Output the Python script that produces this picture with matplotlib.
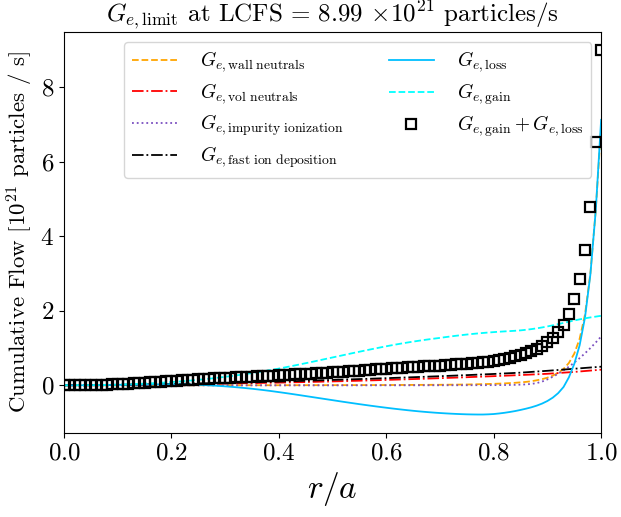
import numpy as np
import matplotlib
matplotlib.use("Agg")
import matplotlib.pyplot as plt

plt.rcParams['font.family'] = 'serif'
plt.rcParams['font.serif'] = ['cmr10', 'DejaVu Serif']
plt.rcParams['mathtext.fontset'] = 'cm'
plt.rcParams['axes.formatter.use_mathtext'] = True
plt.rcParams['axes.unicode_minus'] = False

# radial grid for gain / loss (101 points, 0.01 spacing)
r = np.linspace(0.0, 1.0, 101)

gain = [
    0.000, 0.001, 0.002, 0.003, 0.004, 0.006, 0.008, 0.010, 0.013, 0.016,
    0.020, 0.024, 0.029, 0.034, 0.040, 0.046, 0.053, 0.061, 0.069, 0.078,
    0.088, 0.098, 0.109, 0.121, 0.134, 0.148, 0.162, 0.177, 0.193, 0.210,
    0.228, 0.247, 0.266, 0.286, 0.307, 0.329, 0.352, 0.375, 0.399, 0.424,
    0.449, 0.477, 0.506, 0.535, 0.564, 0.594, 0.624, 0.655, 0.686, 0.717,
    0.748, 0.779, 0.810, 0.841, 0.872, 0.902, 0.932, 0.962, 0.991, 1.020,
    1.048, 1.075, 1.101, 1.126, 1.150, 1.173, 1.195, 1.216, 1.236, 1.255,
    1.273, 1.293, 1.312, 1.330, 1.347, 1.363, 1.378, 1.392, 1.405, 1.417,
    1.428, 1.438, 1.447, 1.455, 1.464, 1.475, 1.490, 1.508, 1.529, 1.553,
    1.580, 1.610, 1.642, 1.675, 1.708, 1.740, 1.770, 1.797, 1.822, 1.844,
    1.866,
]

loss = [
    0.000, 0.000, 0.001, 0.002, 0.003, 0.004, 0.005, 0.007, 0.009, 0.011,
    0.013, 0.015, 0.017, 0.019, 0.021, 0.023, 0.025, 0.026, 0.027, 0.028,
    0.028, 0.027, 0.025, 0.022, 0.018, 0.013, 0.007, 0.000, -0.008, -0.017,
    -0.027, -0.038, -0.050, -0.063, -0.077, -0.092, -0.108, -0.125, -0.143, -0.162,
    -0.182, -0.202, -0.223, -0.244, -0.266, -0.288, -0.310, -0.332, -0.354, -0.376,
    -0.398, -0.420, -0.442, -0.463, -0.484, -0.505, -0.525, -0.545, -0.564, -0.583,
    -0.601, -0.619, -0.636, -0.652, -0.668, -0.683, -0.697, -0.710, -0.722, -0.733,
    -0.743, -0.752, -0.760, -0.767, -0.773, -0.778, -0.781, -0.783, -0.783, -0.778,
    -0.770, -0.755, -0.737, -0.715, -0.690, -0.660, -0.627, -0.590, -0.545, -0.490,
    -0.420, -0.330, -0.210, -0.045, 0.215, 0.575, 1.075, 1.825, 2.975, 4.695,
    7.124,
]

# coarser grids for the slowly varying components
r_slow = [0.0, 0.05, 0.1, 0.15, 0.2, 0.25, 0.3, 0.35, 0.4, 0.45, 0.5,
          0.55, 0.6, 0.65, 0.7, 0.75, 0.8, 0.85, 0.9, 0.95, 1.0]
vol_neutrals = [0.000, 0.004, 0.010, 0.018, 0.027, 0.037, 0.048, 0.060, 0.073, 0.088, 0.105,
                0.124, 0.145, 0.168, 0.192, 0.218, 0.246, 0.276, 0.310, 0.360, 0.420]
fast_ion = [0.000, 0.006, 0.014, 0.024, 0.036, 0.050, 0.065, 0.082, 0.100, 0.122, 0.145,
            0.168, 0.192, 0.218, 0.245, 0.274, 0.305, 0.340, 0.390, 0.445, 0.500]

r_edge = [0.0, 0.1, 0.2, 0.3, 0.4, 0.5, 0.6, 0.7, 0.75, 0.8, 0.82, 0.84, 0.86, 0.87,
          0.88, 0.89, 0.90, 0.91, 0.92, 0.93, 0.94, 0.95, 0.96, 0.97, 0.98, 0.99, 1.0]
wall_neutrals = [0.000, 0.000, 0.001, 0.002, 0.003, 0.005, 0.008, 0.015, 0.022, 0.040,
                 0.052, 0.068, 0.092, 0.110, 0.135, 0.165, 0.205, 0.260, 0.335, 0.440,
                 0.600, 0.850, 1.250, 1.900, 3.000, 4.700, 6.950]
impurity = [0.000, 0.000, 0.000, 0.000, 0.000, 0.000, 0.001, 0.002, 0.003, 0.005,
            0.008, 0.013, 0.025, 0.038, 0.060, 0.100, 0.160, 0.230, 0.310, 0.400,
            0.500, 0.610, 0.730, 0.860, 1.000, 1.150, 1.310]

total = np.array(gain) + np.array(loss)

fig = plt.figure(figsize=(6.21, 5.17), dpi=100)
ax = fig.add_axes([0.103, 0.163, 0.865, 0.775])

ax.plot(r_edge, wall_neutrals, '--', color='orange', lw=1.3,
        label=r'$G_{e,\mathrm{wall\ neutrals}}$')
ax.plot(r_slow, vol_neutrals, '-.', color='red', lw=1.3,
        label=r'$G_{e,\mathrm{vol\ neutrals}}$')
ax.plot(r_edge, impurity, ':', color='#7a4fc0', lw=1.3,
        label=r'$G_{e,\mathrm{impurity\ ionization}}$')
ax.plot(r_slow, fast_ion, '-.', color='black', lw=1.3,
        label=r'$G_{e,\mathrm{fast\ ion\ deposition}}$')
ax.plot(r, loss, '-', color='deepskyblue', lw=1.3,
        label=r'$G_{e,\mathrm{loss}}$')
ax.plot(r, gain, '--', color='cyan', lw=1.3,
        label=r'$G_{e,\mathrm{gain}}$')
ax.plot(r, total, 's', mfc='none', mec='black', ms=7.8, mew=1.6,
        label=r'$G_{e,\mathrm{gain}} + G_{e,\mathrm{loss}}$')

ax.set_xlim(0, 1)
ax.set_xticks([0.0, 0.2, 0.4, 0.6, 0.8, 1.0])
ax.set_yticks([0, 2, 4, 6, 8])
ax.tick_params(labelsize=18)
ax.set_xlabel(r'$r/a$', fontsize=24)
ax.set_ylabel(r'Cumulative Flow [$10^{21}$ particles / s]', fontsize=16.5)
ax.set_title(r'$G_{e,\mathrm{limit}}$ at LCFS = 8.99 $\times 10^{21}$ particles/s',
             fontsize=18, pad=4)
ax.legend(loc='upper right', ncol=2, fontsize=14, handlelength=2.3,
          handletextpad=1.2, columnspacing=2.35, labelspacing=0.35)

fig.savefig('out.png', dpi=100)
